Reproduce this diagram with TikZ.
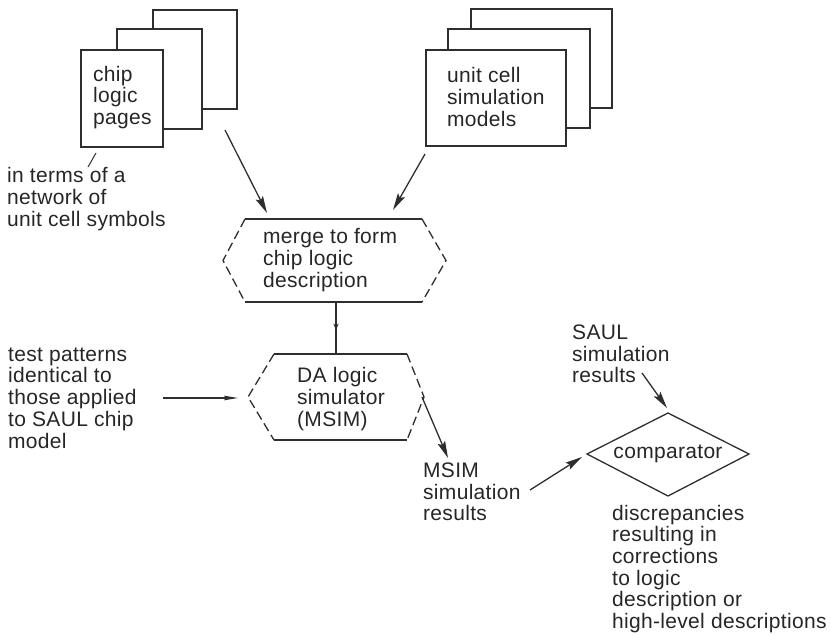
\documentclass[tikz,border=0pt]{standalone}
\usepackage{fontspec}
\setmainfont{Liberation Sans}[LetterSpace=1.5]
\usetikzlibrary{arrows.meta,decorations.markings}
\begin{document}
\begin{tikzpicture}[x=1pt,y=-1pt,
  ink/.style={draw=black!82, line width=1.3pt},
  page/.style={ink, fill=white},
  lbl/.style={inner sep=0pt, anchor=west, align=left,
    font=\fontsize{21}{21.7}\selectfont, text=black!85},
  arr/.style={ink, -{Stealth[length=17pt,width=8pt,inset=3pt]}},
  thinarr/.style={ink, -{Stealth[length=14pt,width=4.5pt,inset=2pt]}},
  dashedge/.style={ink, dash pattern=on 9pt off 4.5pt},
  midtip/.style={decoration={markings,
      mark=at position 0.55 with {\arrow{Stealth[length=7pt,width=5pt]}}},
    postaction={decorate}},
]
\useasboundingbox (0,0) rectangle (831,635);

% stack of chip logic pages
\draw[page] (153,10) rectangle (237,109);
\draw[page] (117,29) rectangle (202,129);
\draw[page] (81,50) rectangle (163,147);
\node[lbl] (chip) at (93,97.5) {chip\\logic\\pages};

% stack of unit cell model pages
\draw[page] (471,9) rectangle (612,108);
\draw[page] (448,29) rectangle (590,128);
\draw[page] (426,50) rectangle (566,146);
\node[lbl] (unit) at (447,97) {unit cell\\simulation\\models};

% note on the chip pages
\node[lbl] (terms) at (7,199) {in terms of a\\network of\\unit cell symbols};
\coordinate (tickA) at (96,153);
\coordinate (tickB) at (88,167);
\draw[ink, line width=1pt] (tickA) -- (tickB);

% merge step
\node[lbl] (merge) at (263,260) {merge to form\\chip logic\\description};
\draw[ink] (245,219) -- (422,219);
\draw[ink] (245,302) -- (422,302);
\draw[dashedge] (245,219) -- (223,260.5) -- (245,302);
\draw[dashedge] (422,219) -- (446,260.5) -- (422,302);

\coordinate (chipOut) at (225,130);
\coordinate (mergeInL) at (267,213);
\coordinate (unitOut) at (425,154);
\coordinate (mergeInR) at (393,210);
\draw[arr] (chipOut) -- (mergeInL);
\draw[arr] (unitOut) -- (mergeInR);

% DA logic simulator
\node[lbl] (da) at (297,399) {DA logic\\simulator\\(MSIM)};
\draw[ink] (274,354) -- (407,354);
\draw[ink] (274,440) -- (407,440);
\draw[dashedge] (274,354) -- (248,397) -- (274,440);
\draw[dashedge] (407,354) -- (424,397) -- (407,440);

\coordinate (mergeOut) at (336,302);
\coordinate (daIn) at (336,354);
\draw[ink, midtip] (mergeOut) -- (daIn);

% test patterns
\node[lbl] (test) at (8,398) {test patterns\\identical to\\those applied\\to SAUL chip\\model};
\coordinate (testOut) at (163,398);
\coordinate (daInL) at (238,398);
\draw[thinarr] (testOut) -- (daInL);

% MSIM results
\node[lbl] (msim) at (423,492) {MSIM\\simulation\\results};
\coordinate (daOut) at (422,397);
\coordinate (msimIn) at (448,458);
\draw[arr] (daOut) -- (msimIn);

% comparator
\node[inner sep=0pt, font=\fontsize{21}{21.7}\selectfont, text=black!85] (comp) at (668,454) {comparator};
\draw[ink] (587,454) -- (668,413) -- (749,454) -- (668,496) -- cycle;

\node[lbl] (saul) at (572,354) {SAUL\\simulation\\results};
\coordinate (saulOut) at (642,373);
\coordinate (compTop) at (667,408);
\draw[arr] (saulOut) -- (compTop);

\coordinate (msimOut) at (530,490);
\coordinate (compLeft) at (582,457);
\draw[arr] (msimOut) -- (compLeft);

\node[lbl] (disc) at (612,569) {discrepancies\\resulting in\\corrections\\to logic\\description or\\high-level descriptions};
\end{tikzpicture}
\end{document}
